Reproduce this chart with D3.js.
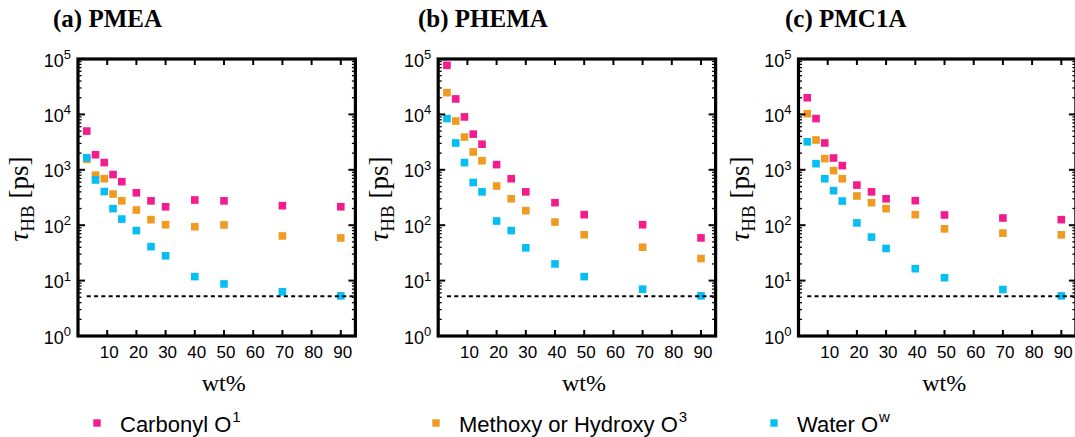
<!DOCTYPE html>
<html>
<head>
<meta charset="utf-8">
<script src="https://cdn.jsdelivr.net/npm/d3@7"></script>
<style>
  html, body { margin: 0; padding: 0; background: #fff; }
  svg { display: block; }
</style>
</head>
<body>
<svg id="chart" width="1075" height="437"></svg>
<script>
// Water content (wt%) at which hydrogen-bond lifetimes were computed
const wt = [3, 6, 9, 12, 15, 20, 25, 30, 40, 50, 70, 90];

// PMEA
const pmeaCarbonyl = [5000, 1870, 1350, 820, 610, 385, 275, 215, 285, 275, 225, 215];
const pmeaMethoxy  = [1550, 800, 690, 365, 275, 188, 126, 102, 94, 101, 64, 59];
const pmeaWater    = [1650, 655, 405, 199, 129, 80, 41, 28, 11.8, 8.7, 6.3, 5.3];

// PHEMA
const phemaCarbonyl = [77000, 19000, 9000, 4400, 2900, 1240, 690, 400, 255, 155, 102, 59];
const phemaHydroxy  = [24700, 7600, 3900, 2100, 1460, 510, 300, 183, 114, 67, 40, 25];
const phemaWater    = [8400, 3050, 1350, 590, 400, 119, 80, 39, 20, 11.8, 7.0, 5.3];

// PMC1A
const pmc1aCarbonyl = [20000, 8400, 3050, 1630, 1190, 530, 400, 300, 277, 153, 135, 126];
const pmc1aMethoxy  = [10300, 3450, 1590, 965, 690, 337, 255, 199, 155, 86, 72, 67];
const pmc1aWater    = [3200, 1290, 690, 420, 273, 110, 61, 38, 16.4, 11.3, 6.9, 5.3];

// Bulk water reference lifetime (dashed line)
const bulkWater = 5.2;

const panelTitles = ["(a) PMEA", "(b) PHEMA", "(c) PMC1A"];
const seriesNames = ["Carbonyl O", "Methoxy or Hydroxy O", "Water O"];
const seriesSup = ["1", "3", "w"];
const xTickValues = [10, 20, 30, 40, 50, 60, 70, 80, 90];
const yTickExponents = [0, 1, 2, 3, 4, 5];

const colors = ["#f41b8c", "#f09a20", "#05bef4"];

const panelData = [
  [pmeaCarbonyl, pmeaMethoxy, pmeaWater],
  [phemaCarbonyl, phemaHydroxy, phemaWater],
  [pmc1aCarbonyl, pmc1aMethoxy, pmc1aWater]
];

// layout
const frameLefts = [78, 438.2, 798.5];
const titleLefts = [53, 418, 785];
const frameW = 277.4, plotTop = 59, plotBottom = 336;
const sans = "'Liberation Sans', Arial, Helvetica, sans-serif";
const serif = "'Liberation Serif', 'Times New Roman', serif";
const msize = 7.6;

const svg = d3.select("#chart");

panelData.forEach((series, p) => {
  const x0 = frameLefts[p];
  const x = d3.scaleLinear().domain([0, 95]).range([x0, x0 + frameW]);
  const y = d3.scaleLog().domain([1, 1e5]).range([plotBottom, plotTop]);
  const g = svg.append("g");

  // title
  g.append("text")
    .attr("x", titleLefts[p]).attr("y", 27)
    .attr("font-family", serif).attr("font-weight", "bold")
    .attr("font-size", 25).attr("fill", "#000")
    .text(panelTitles[p]);

  // points
  series.forEach((vals, s) => {
    g.append("g").selectAll("rect")
      .data(vals.map((v, i) => ({ x: wt[i], y: v })))
      .join("rect")
      .attr("x", d => x(d.x) - msize / 2)
      .attr("y", d => y(d.y) - msize / 2)
      .attr("width", msize).attr("height", msize)
      .attr("fill", colors[s]);
  });

  // bulk water reference
  g.append("line")
    .attr("x1", x(3)).attr("x2", x(95) - 2)
    .attr("y1", y(bulkWater)).attr("y2", y(bulkWater))
    .attr("stroke", "#000").attr("stroke-width", 2)
    .attr("stroke-dasharray", "4,3.3");

  // x ticks (inward, bottom and top)
  const tk = g.append("g").attr("stroke", "#000").attr("stroke-width", 2);
  xTickValues.forEach(v => {
    tk.append("line").attr("x1", x(v)).attr("x2", x(v)).attr("y1", plotBottom).attr("y2", plotBottom - 6);
    tk.append("line").attr("x1", x(v)).attr("x2", x(v)).attr("y1", plotTop).attr("y2", plotTop + 6);
  });
  // y ticks: decades and minor
  y.ticks().forEach(v => {
    const e = Math.log10(v);
    const major = Math.abs(e - Math.round(e)) < 1e-9;
    const len = major ? 7 : 3.5;
    const sw = major ? 2 : 1.3;
    tk.append("line").attr("x1", x0).attr("x2", x0 + len).attr("y1", y(v)).attr("y2", y(v)).attr("stroke-width", sw);
    tk.append("line").attr("x1", x0 + frameW).attr("x2", x0 + frameW - len).attr("y1", y(v)).attr("y2", y(v)).attr("stroke-width", sw);
  });

  // frame
  g.append("rect")
    .attr("x", x0).attr("y", plotTop).attr("width", frameW).attr("height", plotBottom - plotTop)
    .attr("fill", "none").attr("stroke", "#000").attr("stroke-width", 3.2);

  // x tick labels
  g.append("g").selectAll("text").data(xTickValues).join("text")
    .attr("x", d => x(d) + 2).attr("y", 358)
    .attr("text-anchor", "middle")
    .attr("font-family", sans).attr("font-size", 17).attr("fill", "#000")
    .text(d => d);

  // y tick labels 10^n
  yTickExponents.forEach(e => {
    const t = g.append("text")
      .attr("x", x0 - 7).attr("y", y(Math.pow(10, e)) + 7.5)
      .attr("text-anchor", "end")
      .attr("font-family", sans).attr("font-size", 18).attr("fill", "#000");
    t.append("tspan").text("10");
    t.append("tspan").attr("font-size", 13).attr("dy", -7.5).text(e);
  });

  // y axis label
  const yl = g.append("text")
    .attr("transform", `translate(${x0 - 50},199) rotate(-90)`)
    .attr("text-anchor", "middle")
    .attr("font-family", serif).attr("font-size", 27).attr("fill", "#000");
  yl.append("tspan").attr("font-style", "italic").text("τ");
  yl.append("tspan").attr("font-size", 19).attr("dy", 6).text("HB");
  yl.append("tspan").attr("dy", -6).text(" [ps]");

  // x axis label
  g.append("text")
    .attr("x", (x0 + frameW / 2) + 7).attr("y", 391)
    .attr("text-anchor", "middle")
    .attr("font-family", serif).attr("font-size", 24).attr("fill", "#000")
    .text("wt%");
});

// legend
const legendMarkX = [97, 436, 774];
const legend = svg.append("g");
seriesNames.forEach((name, s) => {
  legend.append("rect")
    .attr("x", legendMarkX[s] - 3.7).attr("y", 423 - 3.7)
    .attr("width", 7.4).attr("height", 7.4)
    .attr("fill", colors[s]);
  const t = legend.append("text")
    .attr("x", legendMarkX[s] + 23).attr("y", 431.5)
    .attr("font-family", sans).attr("font-size", 22).attr("fill", "#000");
  t.append("tspan").text(name);
  t.append("tspan").attr("font-size", 15).attr("dy", -10).attr("dx", 1).text(seriesSup[s]);
});
</script>
</body>
</html>
